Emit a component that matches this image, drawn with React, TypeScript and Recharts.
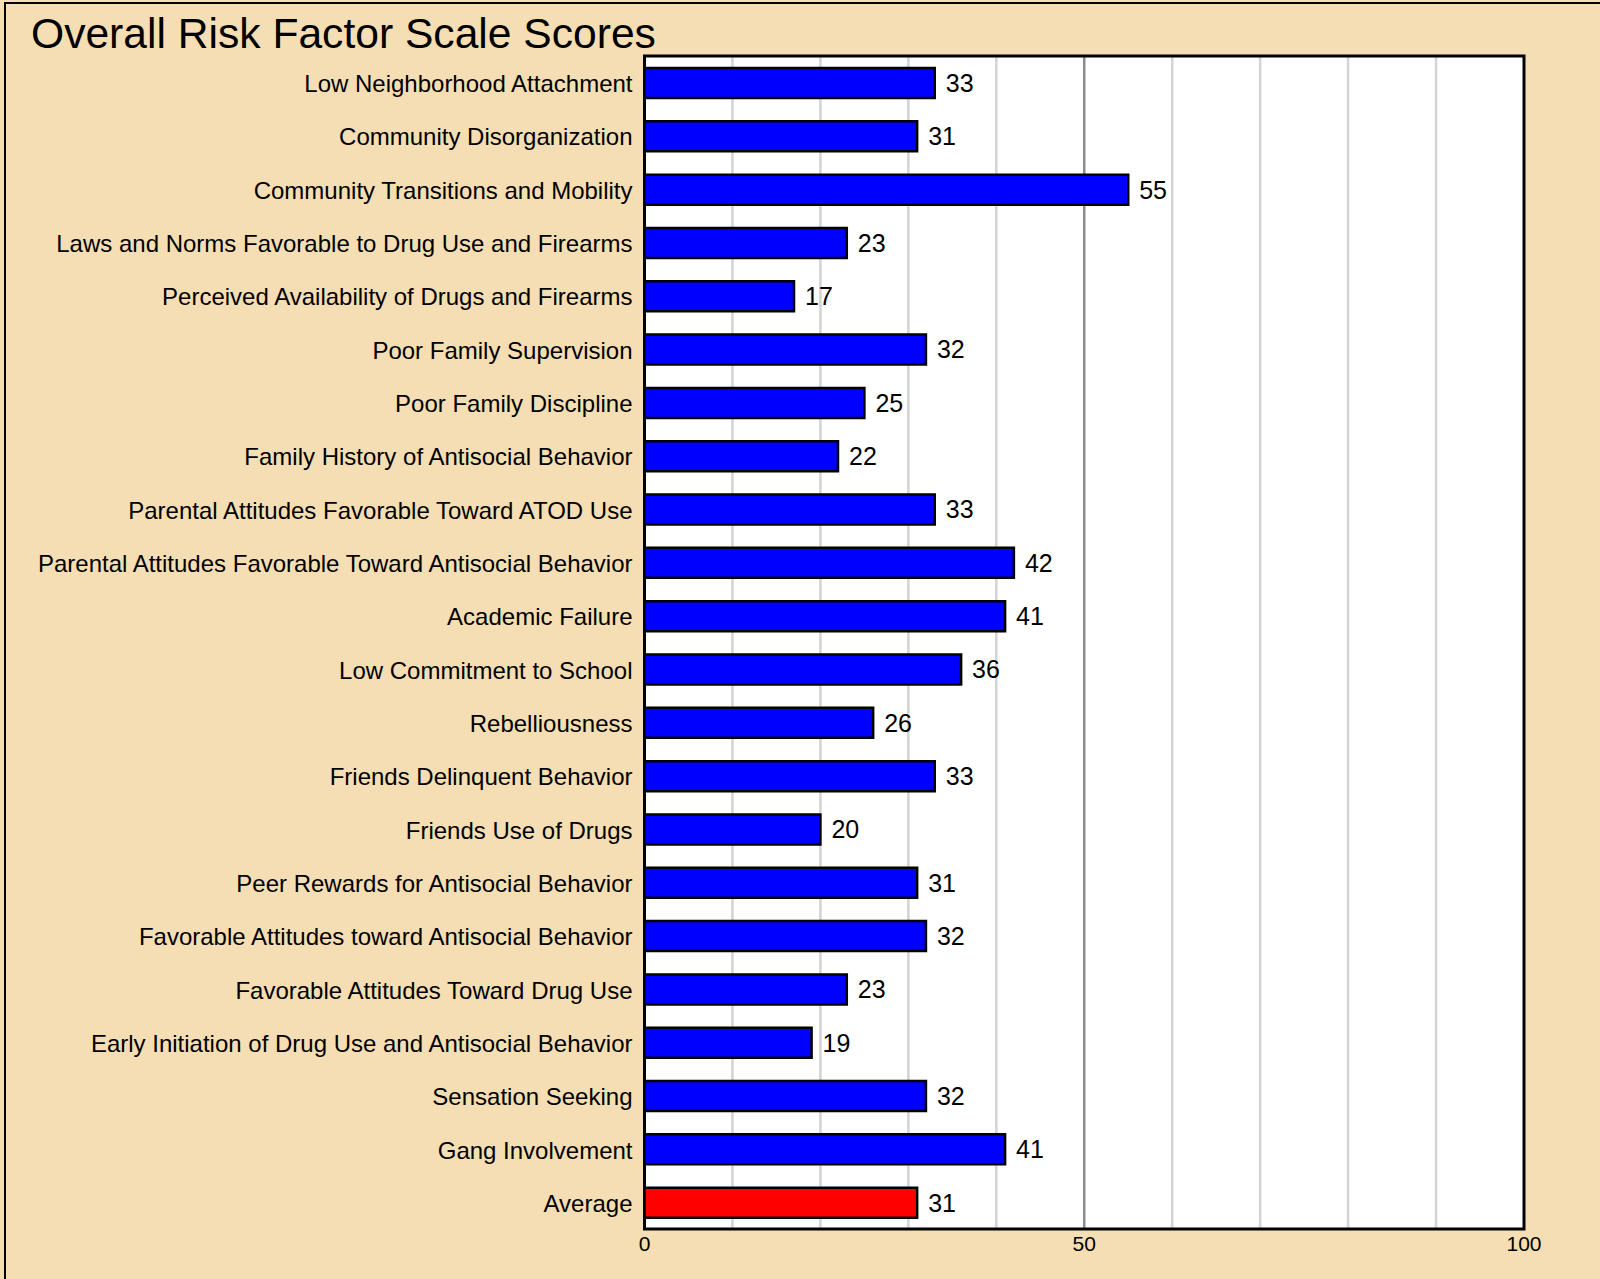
import React from 'react';
import {
    BarChart,
    Bar,
    XAxis,
    YAxis,
    CartesianGrid,
    Cell,
    LabelList,
    ReferenceArea
} from 'recharts';

const categories = [
    'Low Neighborhood Attachment',
    'Community Disorganization',
    'Community Transitions and Mobility',
    'Laws and Norms Favorable to Drug Use and Firearms',
    'Perceived Availability of Drugs and Firearms',
    'Poor Family Supervision',
    'Poor Family Discipline',
    'Family History of Antisocial Behavior',
    'Parental Attitudes Favorable Toward ATOD Use',
    'Parental Attitudes Favorable Toward Antisocial Behavior',
    'Academic Failure',
    'Low Commitment to School',
    'Rebelliousness',
    'Friends Delinquent Behavior',
    'Friends Use of Drugs',
    'Peer Rewards for Antisocial Behavior',
    'Favorable Attitudes toward Antisocial Behavior',
    'Favorable Attitudes Toward Drug Use',
    'Early Initiation of Drug Use and Antisocial Behavior',
    'Sensation Seeking',
    'Gang Involvement',
    'Average'
];

const scores = [33, 31, 55, 23, 17, 32, 25, 22, 33, 42, 41, 36, 26, 33, 20, 31, 32, 23, 19, 32, 41, 31];

const axisTicks = [0, 50, 100];
const lightGridLines = [10, 20, 30, 40, 60, 70, 80, 90];
const majorGridLines = [50];
const X_DOMAIN: [number, number] = [0, 100];

const data = categories.map((name, i) => ({ name, value: scores[i] }));

const FONT = '"Liberation Sans", Arial, Helvetica, sans-serif';

// map grid values through the x axis scale (fallback: linear over plot offset)
const gridGenerator = (values: number[]) => (props: any) => {
    const scale = props?.xAxis?.scale;
    if (scale && typeof scale === 'function') {
        return values.map((v) => scale(v));
    }
    const { offset } = props;
    return values.map((v) => offset.left + (offset.width * (v - X_DOMAIN[0])) / (X_DOMAIN[1] - X_DOMAIN[0]));
};

export default function App() {
    return (
        <div
            style={{
                position: 'absolute',
                left: 0,
                top: 0,
                width: 1600,
                height: 1279,
                overflow: 'hidden',
                background: '#F5DEB3',
                fontFamily: FONT
            }}
        >
            <div
                style={{
                    position: 'absolute',
                    left: 4,
                    top: 2,
                    width: 1700,
                    height: 1400,
                    borderTop: '2px solid #000',
                    borderLeft: '2px solid #000'
                }}
            />
            <div
                style={{
                    position: 'absolute',
                    left: 31,
                    top: 10,
                    fontSize: 42.6,
                    lineHeight: '46px',
                    color: '#000',
                    whiteSpace: 'nowrap'
                }}
            >
                Overall Risk Factor Scale Scores
            </div>
            <div style={{ position: 'absolute', left: 0, top: 0 }}>
                <BarChart
                    width={1600}
                    height={1279}
                    data={data}
                    layout="vertical"
                    margin={{ top: 56, right: 76, left: 0, bottom: 20 }}
                    barCategoryGap={0}
                >
                    <CartesianGrid
                        horizontal={false}
                        fill="#ffffff"
                        stroke="#d3d3d3"
                        strokeWidth={2.5}
                        verticalCoordinatesGenerator={gridGenerator(lightGridLines)}
                    />
                    <CartesianGrid
                        horizontal={false}
                        stroke="#8c8c8c"
                        strokeWidth={2.5}
                        verticalCoordinatesGenerator={gridGenerator(majorGridLines)}
                    />
                    <XAxis
                        type="number"
                        domain={X_DOMAIN}
                        ticks={axisTicks}
                        axisLine={false}
                        tickLine={false}
                        tickSize={0}
                        tickMargin={7}
                        height={30}
                        tick={{ fill: '#000', fontSize: 21, fontFamily: FONT }}
                    />
                    <YAxis
                        type="category"
                        dataKey="name"
                        width={644.5}
                        axisLine={false}
                        tickLine={false}
                        tickSize={0}
                        tickMargin={12}
                        interval={0}
                        tick={{ fill: '#000', fontSize: 24, fontFamily: FONT, dy: 1 }}
                    />
                    <Bar dataKey="value" barSize={30} isAnimationActive={false}>
                        {data.map((entry, index) => (
                            <Cell
                                key={`cell-${index}`}
                                fill={entry.name === 'Average' ? '#ff0000' : '#0000ff'}
                                stroke="#000"
                                strokeWidth={2.5}
                            />
                        ))}
                        <LabelList
                            dataKey="value"
                            position="right"
                            offset={11}
                            style={{ fill: '#000', fontSize: 25, fontFamily: FONT }}
                        />
                    </Bar>
                    <ReferenceArea x1={0} x2={100} fill="none" stroke="#000" strokeWidth={3} />
                </BarChart>
            </div>
        </div>
    );
}
